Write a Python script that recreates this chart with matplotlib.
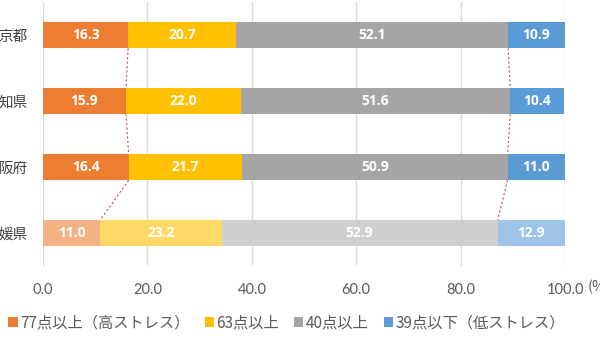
import matplotlib
matplotlib.use("Agg")
import matplotlib.pyplot as plt
import numpy as np

plt.rcParams['font.family'] = ['Noto Sans CJK JP', 'DejaVu Sans']

# visible (cropped) category labels as shown in the reference
categories = ["京都", "知県", "阪府", "媛県"]
series_names = ["77点以上（高ストレス）", "63点以上", "40点以上", "39点以下（低ストレス）"]
high = [16.3, 15.9, 16.4, 11.0]
mid_high = [20.7, 22.0, 21.7, 23.2]
mid_low = [52.1, 51.6, 50.9, 52.9]
low = [10.9, 10.4, 11.0, 12.9]
xticks = [0, 20, 40, 60, 80, 100]

colors = ["#ED7D31", "#FFC000", "#A5A5A5", "#5B9BD5"]
light_colors = ["#F4B183", "#FFD966", "#D0CECE", "#9DC3E6"]

fig = plt.figure(figsize=(6, 3.38), dpi=100)
ax = fig.add_axes([0.0717, 0.213, 0.87, 0.781])

series = [high, mid_high, mid_low, low]
y = np.arange(len(categories))
bh = 0.4
left = np.zeros(len(categories))
for si, vals in enumerate(series):
    vals = np.array(vals)
    cols = [colors[si]] * (len(categories) - 1) + [light_colors[si]]
    ax.barh(y, vals, left=left, height=bh, color=cols, label=series_names[si], zorder=3)
    for yi, (l, v) in enumerate(zip(left, vals)):
        ax.text(l + v / 2, yi, f"{v:.1f}", ha="center", va="center", color="white",
                fontsize=10, fontweight="bold", zorder=4, family=['Open Sans', 'DejaVu Sans'])
    left = left + vals

# series lines (dashed)
c1 = np.array(high)
c3 = np.array(high) + np.array(mid_high) + np.array(mid_low)
for c in (c1, c3):
    for i in range(len(categories) - 1):
        ax.plot([c[i], c[i + 1]], [i + bh / 2, i + 1 - bh / 2], color="#C0504D",
                lw=0.8, ls=(0, (2, 2)), zorder=2)

ax.set_xlim(0, 100)
ax.set_ylim(len(categories) - 0.5, -0.5)
ax.set_yticks(y)
ax.set_yticklabels(categories, fontsize=10.5, color="#404040")
ax.set_xticks(xticks)
ax.set_xticklabels([f"{t:.1f}" for t in xticks], fontsize=10.5, color="#595959",
                   family=['Lato', 'DejaVu Sans'])
ax.tick_params(axis="both", length=0)
ax.tick_params(axis="x", pad=12)
ax.tick_params(axis="y", pad=11)
ax.grid(axis="x", color="#D9D9D9", lw=1, zorder=0)
for s in ax.spines.values():
    s.set_visible(False)

fig.text(0.979, 0.151, "(%)", fontsize=10.5, color="#595959", ha="left", va="center")

handles, labels = ax.get_legend_handles_labels()
leg = fig.legend(handles, labels, loc="center left", bbox_to_anchor=(0.014, 0.045), ncol=4,
                 frameon=False, fontsize=11, handlelength=0.6, handleheight=0.6,
                 handletextpad=0.15, columnspacing=1.0, borderaxespad=0, borderpad=0)
for t in leg.get_texts():
    t.set_color("#595959")

fig.savefig("out.png", dpi=100)
